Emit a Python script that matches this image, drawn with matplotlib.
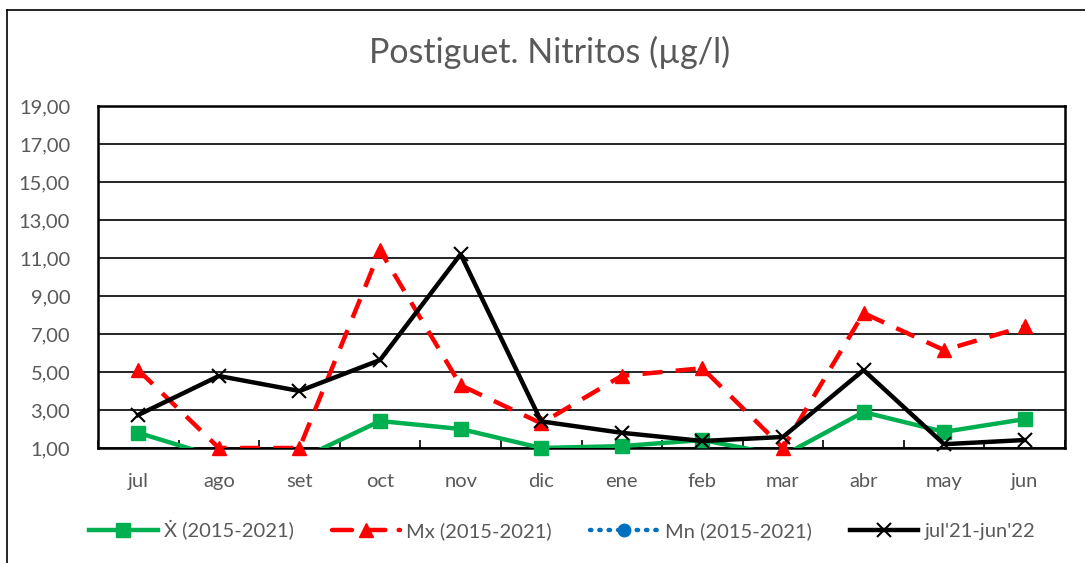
import numpy as np
import matplotlib
matplotlib.use('Agg')
import matplotlib.pyplot as plt
from matplotlib.lines import Line2D
from matplotlib.ticker import FuncFormatter

# datos (por debajo de 1,00 quedan recortados)
meses = ['jul', 'ago', 'set', 'oct', 'nov', 'dic', 'ene', 'feb', 'mar', 'abr', 'may', 'jun']
media = [1.80, 0.50, 0.40, 2.42, 2.00, 1.00, 1.10, 1.42, 0.60, 2.89, 1.85, 2.52]
maximo = [5.10, 1.00, 1.00, 11.40, 4.30, 2.30, 4.80, 5.20, 1.00, 8.10, 6.15, 7.40]
minimo = [0.50, 0.40, 0.40, 0.50, 0.50, 0.40, 0.40, 0.50, 0.40, 0.50, 0.50, 0.50]
actual = [2.74, 4.79, 4.00, 5.63, 11.20, 2.40, 1.80, 1.37, 1.58, 5.10, 1.20, 1.42]

etiquetas = ['Ẋ (2015-2021)', 'Mx (2015-2021)', 'Mn (2015-2021)', "jul'21-jun'22"]

plt.rcParams['font.family'] = ['Lato', 'DejaVu Sans']
gris = '#595959'

fig = plt.figure(figsize=(10.85, 5.63), dpi=100)
ax = fig.add_axes([98 / 1085, 1 - 448 / 563, (1065 - 98) / 1085, (448 - 106) / 563])

x = np.arange(len(meses))
estilos = [
    dict(color='#00B050', lw=3.2, ls='-', marker='s', ms=10, mec='#00B050'),
    dict(color='#FF0000', lw=3.2, ls=(0, (4.5, 3)), marker='^', ms=10, mec='#FF0000'),
    dict(color='#0070C0', lw=3.2, ls=(0, (0.3, 1.8)), marker='o', ms=9, mec='#0070C0',
         dash_capstyle='round'),
    dict(color='black', lw=3.2, ls='-', marker='x', ms=10, mew=1.5, mec='black'),
]
series = [media, maximo, minimo, actual]

ymin, ymax = 1, 19
for datos, est, z in zip(series, estilos, [3, 4, 2, 5]):
    d = np.array(datos)
    linea = {k: v for k, v in est.items() if k not in ('marker', 'ms', 'mec', 'mew')}
    ax.plot(x, d, zorder=z, **linea)
    visibles = np.where(d >= ymin, d, np.nan)
    ax.plot(x, visibles, ls='none', marker=est['marker'], ms=est['ms'],
            color=est['color'], mec=est['mec'], mew=est.get('mew', 1),
            clip_on=False, zorder=z + 0.5)

ax.set_xlim(-0.5, len(meses) - 0.5)
ax.set_ylim(ymin, ymax)
ax.set_yticks(np.arange(1, 20, 2))
ax.yaxis.set_major_formatter(FuncFormatter(lambda v, p: f'{v:.2f}'.replace('.', ',')))
ax.grid(axis='y', color='black', lw=1.2)
ax.set_axisbelow(True)

ax.set_xticks(x)
ax.set_xticklabels(meses)
ax.set_xticks(np.arange(-0.5, len(meses)), minor=True)
ax.tick_params(axis='x', which='major', length=0, pad=18, labelsize=14.5, labelcolor=gris)
ax.tick_params(axis='x', which='minor', direction='in', length=6, width=1.2)
ax.tick_params(axis='y', length=0, pad=20, labelsize=14.5, labelcolor=gris)
for s in ax.spines.values():
    s.set_linewidth(1.8)
    s.set_color('black')

fig.text(550 / 1085, 1 - 52 / 563, 'Postiguet. Nitritos (µg/l)', ha='center', va='center',
         fontsize=24.5, color=gris)

manejadores = []
for est in estilos:
    manejadores.append(Line2D([0], [0], color=est['color'], lw=est['lw'], ls=est['ls'],
                              marker=est['marker'], ms=est['ms'], mec=est['mec'],
                              mew=est.get('mew', 1), dash_capstyle='round'))
leg = fig.legend(manejadores, etiquetas, loc='center', bbox_to_anchor=(0.518, 1 - 530 / 563),
                 ncol=4, frameon=False, fontsize=14.5, handlelength=3.4, handletextpad=0.3,
                 columnspacing=1.9, labelcolor=gris)

# borde exterior del grafico
fig.add_artist(Line2D([7 / 1085, 7 / 1085], [0, 1 - 10 / 563], color='black', lw=1.2))
fig.add_artist(Line2D([7 / 1085, 1], [1 - 10 / 563, 1 - 10 / 563], color='black', lw=1.2))

fig.savefig('out.png', dpi=100)
